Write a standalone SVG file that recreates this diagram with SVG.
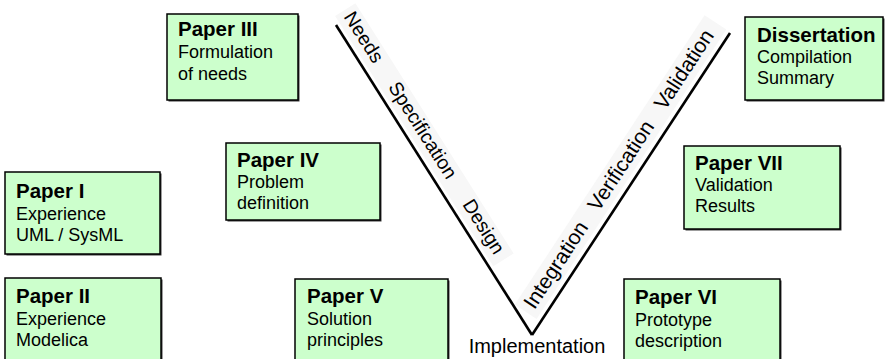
<svg xmlns="http://www.w3.org/2000/svg" width="885" height="359" viewBox="0 0 885 359">
  <style>
    text { font-family: "Liberation Sans", Arial, Helvetica, sans-serif; fill: #000; }
    .box { fill: #ccffcc; stroke: #000; stroke-width: 1.5; }
    .shadow { fill: #3a3a3a; }
    .title { font-size: 20.5px; font-weight: bold; }
    .body { font-size: 18px; }
    .vline { stroke: #000; stroke-width: 2.6; fill: none; stroke-linecap: butt; }
    .phase { font-size: 19.5px; }
    .phase-up { font-size: 21px; }
    .band { fill: #f7f7f7; }
  </style>

  <rect width="885" height="359" fill="#ffffff"/>

  <!-- V-model legs with their phase labels -->
  <g id="connectors">
    <g transform="translate(336,25) rotate(57.69)">
      <rect class="band" x="-8" y="-28" width="296" height="24"/>
    </g>
    <g transform="translate(532,335) rotate(-56.75)">
      <rect class="band" x="16" y="-31" width="346" height="26"/>
    </g>
    <line class="vline" x1="336" y1="25" x2="532" y2="335"/>
    <line class="vline" x1="532" y1="335" x2="730" y2="33"/>
    <text class="phase" transform="translate(336,25) rotate(57.69)" y="-10.5"><tspan x="-3">Needs</tspan><tspan x="80">Specification</tspan><tspan x="219">Design</tspan></text>
    <text class="phase-up" transform="translate(532,335) rotate(-56.75)" y="-11.5"><tspan x="22">Integration</tspan><tspan x="139">Verification</tspan><tspan x="260">Validation</tspan></text>
    <text x="537" y="353" text-anchor="middle" style="font-size:20px">Implementation</text>
  </g>

  <g id="paper-iii">
    <rect class="shadow" x="168.5" y="15.5" width="131" height="86"/>
    <rect class="box" x="167" y="14" width="131" height="86"/>
    <text x="178" y="36"><tspan class="title">Paper III</tspan><tspan class="body" x="178" y="58">Formulation</tspan><tspan class="body" x="178" y="80">of needs</tspan></text>
  </g>

  <g id="dissertation">
    <rect class="shadow" x="746.5" y="18.5" width="138" height="83"/>
    <rect class="box" x="745" y="17" width="138" height="83"/>
    <text x="757" y="42"><tspan class="title">Dissertation</tspan><tspan class="body" x="757" y="63">Compilation</tspan><tspan class="body" x="757" y="84">Summary</tspan></text>
  </g>

  <g id="paper-iv">
    <rect class="shadow" x="227.5" y="144.5" width="154" height="77"/>
    <rect class="box" x="226" y="143" width="154" height="77"/>
    <text x="237" y="167"><tspan class="title">Paper IV</tspan><tspan class="body" x="237" y="188">Problem</tspan><tspan class="body" x="237" y="209">definition</tspan></text>
  </g>

  <g id="paper-vii">
    <rect class="shadow" x="685.5" y="147.5" width="156" height="83"/>
    <rect class="box" x="684" y="146" width="156" height="83"/>
    <text x="695" y="170"><tspan class="title">Paper VII</tspan><tspan class="body" x="695" y="191">Validation</tspan><tspan class="body" x="695" y="212">Results</tspan></text>
  </g>

  <g id="paper-i">
    <rect class="shadow" x="6.5" y="173.5" width="155" height="82"/>
    <rect class="box" x="5" y="172" width="155" height="82"/>
    <text x="16" y="198"><tspan class="title">Paper I</tspan><tspan class="body" x="16" y="220">Experience</tspan><tspan class="body" x="16" y="241">UML / SysML</tspan></text>
  </g>

  <g id="paper-ii">
    <rect class="shadow" x="6.5" y="279.5" width="156" height="84"/>
    <rect class="box" x="5" y="278" width="156" height="84"/>
    <text x="16" y="303"><tspan class="title">Paper II</tspan><tspan class="body" x="16" y="325">Experience</tspan><tspan class="body" x="16" y="346">Modelica</tspan></text>
  </g>

  <g id="paper-v">
    <rect class="shadow" x="296.5" y="280.5" width="153" height="84"/>
    <rect class="box" x="295" y="279" width="153" height="84"/>
    <text x="307" y="303"><tspan class="title">Paper V</tspan><tspan class="body" x="307" y="325">Solution</tspan><tspan class="body" x="307" y="346">principles</tspan></text>
  </g>

  <g id="paper-vi">
    <rect class="shadow" x="625.5" y="280.5" width="156" height="84"/>
    <rect class="box" x="624" y="279" width="156" height="84"/>
    <text x="635" y="304"><tspan class="title">Paper VI</tspan><tspan class="body" x="635" y="326">Prototype</tspan><tspan class="body" x="635" y="347">description</tspan></text>
  </g>
</svg>
